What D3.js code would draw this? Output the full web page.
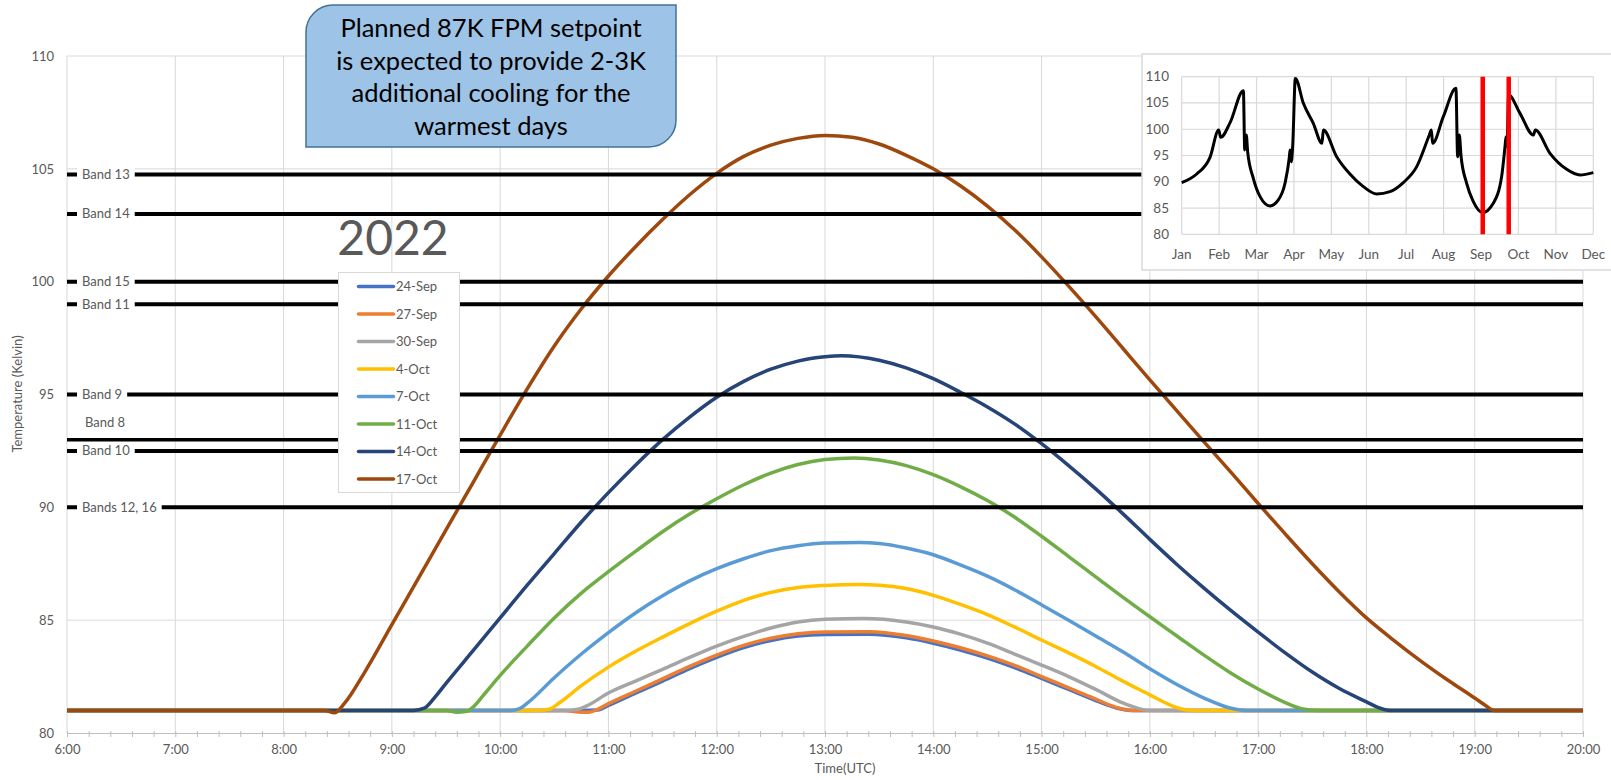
<!DOCTYPE html>
<html>
<head>
<meta charset="utf-8">
<script src="https://cdn.jsdelivr.net/npm/d3@7"></script>
<style>
  body { margin: 0; background: #fff; }
  svg { display: block; font-family: Lato, "Liberation Sans", sans-serif; }
</style>
</head>
<body>
<div id="vis"></div>
<script>
// FPM temperature per day, [hour UTC, kelvin]
var sep24 = [[6, 81], [10.75, 81], [10.9, 81.02], [11.0, 81.22], [11.25, 81.77], [11.5, 82.3], [11.75, 82.85], [12.0, 83.35], [12.25, 83.78], [12.5, 84.1], [12.75, 84.3], [13.0, 84.37], [13.41, 84.38], [13.75, 84.22], [14.0, 83.98], [14.25, 83.68], [14.5, 83.32], [14.75, 82.9], [15.0, 82.42], [15.25, 81.93], [15.5, 81.44], [15.7, 81.1], [15.85, 81], [20, 81]];
var sep27 = [[6, 81], [10.6, 81], [10.72, 80.93], [10.8, 80.92], [10.9, 81.05], [11.0, 81.3], [11.25, 81.85], [11.5, 82.4], [11.75, 82.95], [12.0, 83.45], [12.25, 83.88], [12.5, 84.2], [12.75, 84.4], [13.0, 84.48], [13.41, 84.49], [13.75, 84.32], [14.0, 84.08], [14.25, 83.78], [14.5, 83.42], [14.75, 83.0], [15.0, 82.5], [15.25, 82.0], [15.5, 81.5], [15.7, 81.12], [15.85, 81], [20, 81]];
var sep30 = [[6, 81], [10.62, 81], [10.72, 81.05], [10.8, 81.2], [11.0, 81.77], [11.25, 82.3], [11.5, 82.82], [11.75, 83.35], [12.0, 83.85], [12.25, 84.28], [12.5, 84.65], [12.75, 84.92], [13.0, 85.04], [13.36, 85.07], [13.75, 84.92], [14.0, 84.7], [14.25, 84.38], [14.5, 83.98], [14.75, 83.5], [15.0, 83.01], [15.25, 82.5], [15.5, 81.93], [15.75, 81.33], [15.9, 81.08], [16.0, 81], [20, 81]];
var oct4 = [[6, 81], [10.35, 81], [10.45, 81.05], [10.55, 81.35], [10.75, 82.1], [11.0, 82.92], [11.25, 83.62], [11.5, 84.25], [11.75, 84.85], [12.0, 85.4], [12.25, 85.88], [12.5, 86.23], [12.75, 86.45], [13.0, 86.54], [13.32, 86.58], [13.5, 86.55], [13.75, 86.4], [14.0, 86.1], [14.25, 85.7], [14.5, 85.25], [14.75, 84.7], [15.0, 84.12], [15.25, 83.55], [15.5, 82.95], [15.75, 82.3], [16.0, 81.69], [16.15, 81.32], [16.3, 81.05], [16.4, 81], [20, 81]];
var oct7 = [[6, 81], [10.1, 81], [10.18, 81.08], [10.25, 81.32], [10.5, 82.45], [10.75, 83.5], [11.0, 84.45], [11.25, 85.32], [11.5, 86.08], [11.75, 86.74], [12.0, 87.28], [12.25, 87.72], [12.5, 88.08], [12.75, 88.3], [13.0, 88.42], [13.32, 88.44], [13.5, 88.4], [13.75, 88.2], [14.0, 87.9], [14.25, 87.45], [14.5, 86.95], [14.75, 86.35], [15.0, 85.68], [15.25, 85.0], [15.5, 84.3], [15.75, 83.6], [16.0, 82.85], [16.25, 82.15], [16.5, 81.55], [16.75, 81.1], [16.9, 81], [20, 81]];
var oct11 = [[6, 81], [9.5, 81], [9.6, 80.92], [9.68, 80.95], [9.75, 81.15], [9.85, 81.7], [10.0, 82.55], [10.25, 83.85], [10.5, 85.1], [10.75, 86.2], [11.0, 87.15], [11.25, 88.05], [11.5, 88.92], [11.75, 89.7], [12.0, 90.38], [12.25, 91.0], [12.5, 91.52], [12.75, 91.9], [13.0, 92.12], [13.27, 92.19], [13.5, 92.1], [13.75, 91.85], [14.0, 91.45], [14.25, 90.92], [14.5, 90.3], [14.75, 89.57], [15.0, 88.72], [15.25, 87.82], [15.5, 86.92], [15.75, 86.02], [16.0, 85.15], [16.25, 84.3], [16.5, 83.45], [16.75, 82.65], [17.0, 81.95], [17.25, 81.35], [17.4, 81.08], [17.55, 81], [20, 81]];
var oct14 = [[6, 81], [9.2, 81], [9.3, 81.1], [9.4, 81.6], [9.5, 82.2], [9.75, 83.65], [10.0, 85.1], [10.25, 86.55], [10.5, 87.95], [10.75, 89.35], [11.0, 90.65], [11.25, 91.87], [11.5, 93.0], [11.75, 94.0], [12.0, 94.88], [12.25, 95.58], [12.5, 96.12], [12.75, 96.48], [13.0, 96.67], [13.15, 96.72], [13.5, 96.52], [13.75, 96.18], [14.0, 95.7], [14.25, 95.1], [14.5, 94.45], [14.75, 93.7], [15.0, 92.82], [15.25, 91.85], [15.5, 90.82], [15.75, 89.72], [16.0, 88.58], [16.25, 87.47], [16.5, 86.42], [16.75, 85.42], [17.0, 84.47], [17.25, 83.55], [17.5, 82.7], [17.75, 81.97], [18.0, 81.38], [18.1, 81.15], [18.22, 81], [20, 81]];
var oct17 = [[6, 81], [8.38, 81], [8.47, 80.9], [8.56, 81.3], [8.75, 82.7], [9.0, 84.8], [9.25, 86.9], [9.5, 89.0], [9.75, 91.1], [10.0, 93.2], [10.25, 95.25], [10.5, 97.15], [10.75, 98.8], [11.0, 100.25], [11.25, 101.55], [11.5, 102.75], [11.75, 103.85], [12.0, 104.8], [12.25, 105.55], [12.5, 106.05], [12.75, 106.35], [13.0, 106.48], [13.25, 106.4], [13.5, 106.1], [13.75, 105.6], [14.0, 105.0], [14.25, 104.25], [14.5, 103.35], [14.75, 102.3], [15.0, 101.1], [15.25, 99.8], [15.5, 98.45], [15.75, 97.05], [16.0, 95.65], [16.25, 94.27], [16.5, 92.9], [16.75, 91.55], [17.0, 90.17], [17.25, 88.82], [17.5, 87.5], [17.75, 86.25], [18.0, 85.1], [18.25, 84.12], [18.5, 83.2], [18.75, 82.35], [19.0, 81.55], [19.1, 81.22], [19.18, 81], [20, 81]];

var seriesNames = ["24-Sep", "27-Sep", "30-Sep", "4-Oct", "7-Oct", "11-Oct", "14-Oct", "17-Oct"];
var seriesData = [sep24, sep27, sep30, oct4, oct7, oct11, oct14, oct17];
var seriesColors = ["#4472c4", "#ed7d31", "#a5a5a5", "#ffc000", "#5b9bd5", "#70ad47", "#264478", "#9e480e"];

// detector band limits
var bandNames = ["Band 13", "Band 14", "Band 15", "Band 11", "Band 9", "Band 10", "Bands 12, 16"];
var bandTemps = [104.75, 103, 100, 99, 95, 92.5, 90];
var band8Name = "Band 8";
var band8Temp = 93;

var yTicks = [80, 85, 90, 95, 100, 105, 110];
var hourTicks = [6, 7, 8, 9, 10, 11, 12, 13, 14, 15, 16, 17, 18, 19, 20];

// inset: yearly temperature, [day of year] / kelvin
var insetMonths = ["Jan", "Feb", "Mar", "Apr", "May", "Jun", "Jul", "Aug", "Sep", "Oct", "Nov", "Dec"];
var insetDays = [0, 13.3, 25.1, 32.8, 34.6, 42.9, 54.7, 55.9, 57.3, 58.5, 63.5, 69.5, 78.3, 85.7, 91.6, 95.5, 96.1, 97.2, 98.4, 100.8, 107.9, 116.7, 124.4, 125.6, 137.4, 149.2, 161.1, 172.9, 184.7, 196.5, 208.4, 219.6, 221.4, 222.5, 232.0, 243.2, 244.7, 246.2, 247.7, 252.7, 258.6, 266.9, 276.3, 283.7, 286.7, 287.6, 288.5, 289.9, 300.0, 311.8, 313.6, 326.6, 341.4, 353.2, 365];
var insetTemps = [89.84, 91.48, 94.65, 99.85, 98.46, 101.25, 107.34, 96.05, 98.9, 95.7, 90.66, 87.17, 85.4, 86.54, 89.71, 94.78, 96.05, 93.83, 96.68, 109.68, 104.93, 101.12, 97.32, 99.85, 94.78, 91.48, 89.07, 87.68, 88.12, 89.84, 92.88, 98.9, 99.85, 97.32, 102.39, 107.78, 94.78, 98.9, 94.91, 89.71, 86.22, 84.13, 85.9, 90.98, 96.68, 98.59, 96.68, 106.51, 103.02, 98.9, 99.85, 95.42, 92.37, 91.29, 91.74];
var insetMarkDays = [267, 290];
var insetTicks = [80, 85, 90, 95, 100, 105, 110];

var calloutLines = ["Planned 87K FPM setpoint", "is expected to provide 2-3K", "additional cooling for the", "warmest days"];

var opts = {
  width: 1611,
  height: 780,
  left: 67,
  right: 1583,
  top: 56,
  bottom: 733,
  grid: "#d9d9d9",
  text: "#595959"
};

var svg = d3.select("#vis")
  .append("svg")
  .attr("width", opts.width)
  .attr("height", opts.height);

var x = d3.scaleLinear().domain([6, 20]).range([opts.left, opts.right]);
var y = d3.scaleLinear().domain([80, 110]).range([opts.bottom, opts.top]);

// gridlines
svg.append("g")
  .selectAll("line")
  .data(yTicks.slice(1))
  .join("line")
  .attr("x1", opts.left)
  .attr("x2", opts.right)
  .attr("y1", function(d) { return y(d); })
  .attr("y2", function(d) { return y(d); })
  .attr("stroke", opts.grid);

svg.append("g")
  .selectAll("line")
  .data(hourTicks)
  .join("line")
  .attr("x1", function(d) { return x(d); })
  .attr("x2", function(d) { return x(d); })
  .attr("y1", opts.top)
  .attr("y2", opts.bottom)
  .attr("stroke", opts.grid);

// x axis with 12 minute ticks
var minorTicks = d3.range(0, 71).map(function(i) { return 6 + i * 0.2; });
var xMinor = svg.append("g")
  .attr("transform", "translate(0," + opts.bottom + ")")
  .call(d3.axisBottom(x).tickValues(minorTicks).tickSize(4).tickFormat(""));
xMinor.selectAll("line").attr("stroke", "#bfbfbf").attr("y1", -2);
xMinor.select(".domain").attr("stroke", "#bfbfbf");

var xAxis = svg.append("g")
  .attr("transform", "translate(0," + opts.bottom + ")")
  .call(d3.axisBottom(x).tickValues(hourTicks).tickSize(0).tickPadding(12)
    .tickFormat(function(d) { return d + ":00"; }));
xAxis.select(".domain").remove();
xAxis.selectAll("text")
  .attr("fill", opts.text)
  .style("font-family", "Lato, 'Liberation Sans', sans-serif")
  .style("font-size", "13px");

var yAxis = svg.append("g")
  .attr("transform", "translate(" + opts.left + ",0)")
  .call(d3.axisLeft(y).tickValues(yTicks).tickSize(0).tickPadding(13));
yAxis.select(".domain").remove();
yAxis.selectAll("text")
  .attr("fill", opts.text)
  .style("font-family", "Lato, 'Liberation Sans', sans-serif")
  .style("font-size", "13px");

svg.append("text")
  .attr("x", 845)
  .attr("y", 773)
  .attr("text-anchor", "middle")
  .attr("fill", opts.text)
  .style("font-size", "13px")
  .text("Time(UTC)");

svg.append("text")
  .attr("transform", "translate(22,394) rotate(-90)")
  .attr("text-anchor", "middle")
  .attr("fill", opts.text)
  .style("font-size", "13px")
  .text("Temperature (Kelvin)");

// temperature curves
var line = d3.line()
  .x(function(d) { return x(d[0]); })
  .y(function(d) { return y(d[1]); })
  .curve(d3.curveMonotoneX);

svg.append("g")
  .selectAll("path")
  .data(seriesData)
  .join("path")
  .attr("d", line)
  .attr("fill", "none")
  .attr("stroke", function(d, i) { return seriesColors[i]; })
  .attr("stroke-width", 3.5)
  .attr("stroke-linejoin", "round");

// band lines with labels cut into them
var bands = svg.append("g");
bandTemps.forEach(function(t, i) {
  bands.append("line")
    .attr("x1", opts.left)
    .attr("x2", opts.right)
    .attr("y1", y(t))
    .attr("y2", y(t))
    .attr("stroke", "#000")
    .attr("stroke-width", 4);
  var bg = bands.append("rect").attr("fill", "#fff");
  var label = bands.append("text")
    .attr("x", 82)
    .attr("y", y(t) + 4.5)
    .attr("fill", opts.text)
    .style("font-size", "13px")
    .text(bandNames[i]);
  var w = label.node().getComputedTextLength();
  bg.attr("x", 77).attr("y", y(t) - 8).attr("width", w + 10).attr("height", 16);
});

bands.append("line")
  .attr("x1", opts.left)
  .attr("x2", opts.right)
  .attr("y1", y(band8Temp))
  .attr("y2", y(band8Temp))
  .attr("stroke", "#000")
  .attr("stroke-width", 3.5);
bands.append("text")
  .attr("x", 85)
  .attr("y", y(band8Temp) - 13)
  .attr("fill", opts.text)
  .style("font-size", "13px")
  .text(band8Name);

// legend
var legend = svg.append("g");
legend.append("rect")
  .attr("x", 338.5)
  .attr("y", 272.5)
  .attr("width", 121)
  .attr("height", 220)
  .attr("fill", "#fff")
  .attr("stroke", opts.grid);

var entries = legend.selectAll("g.entry")
  .data(seriesNames)
  .join("g")
  .attr("class", "entry")
  .attr("transform", function(d, i) { return "translate(0," + (286.6 + i * 27.5) + ")"; });
entries.append("line")
  .attr("x1", 358.5)
  .attr("x2", 393.5)
  .attr("stroke", function(d, i) { return seriesColors[i]; })
  .attr("stroke-width", 3.5)
  .attr("stroke-linecap", "round");
entries.append("text")
  .attr("x", 396)
  .attr("y", 4.5)
  .attr("fill", opts.text)
  .style("font-size", "13px")
  .text(function(d) { return d; });

svg.append("text")
  .attr("x", 393)
  .attr("y", 255)
  .attr("text-anchor", "middle")
  .attr("fill", opts.text)
  .style("font-size", "48px")
  .text("2022");

// inset: whole year
var inset = { left: 1142, top: 54, pl: 1181.7, pr: 1593.3, pt: 76.7, pb: 234.3 };
var ix = d3.scaleLinear().domain([0, 365]).range([inset.pl, inset.pr]);
var im = d3.scalePoint().domain(insetMonths).range([inset.pl, inset.pr]);
var iy = d3.scaleLinear().domain([80, 110]).range([inset.pb, inset.pt]);

var ins = svg.append("g");
ins.append("rect")
  .attr("x", inset.left)
  .attr("y", inset.top)
  .attr("width", 480)
  .attr("height", 216)
  .attr("fill", "#fff")
  .attr("stroke", opts.grid)
  .attr("stroke-width", 1.5);

ins.append("g")
  .selectAll("line")
  .data(insetTicks)
  .join("line")
  .attr("x1", inset.pl)
  .attr("x2", inset.pr)
  .attr("y1", function(d) { return iy(d); })
  .attr("y2", function(d) { return iy(d); })
  .attr("stroke", opts.grid)
  .attr("stroke-width", 1.2);

ins.append("g")
  .selectAll("line")
  .data(insetMonths)
  .join("line")
  .attr("x1", function(d) { return im(d); })
  .attr("x2", function(d) { return im(d); })
  .attr("y1", inset.pt)
  .attr("y2", inset.pb)
  .attr("stroke", opts.grid)
  .attr("stroke-width", 1.2);

ins.append("g")
  .selectAll("text")
  .data(insetTicks)
  .join("text")
  .attr("x", 1169)
  .attr("y", function(d) { return iy(d) + 4.5; })
  .attr("text-anchor", "end")
  .attr("fill", opts.text)
  .style("font-size", "13.5px")
  .text(function(d) { return d; });

ins.append("g")
  .selectAll("text")
  .data(insetMonths)
  .join("text")
  .attr("x", function(d) { return im(d); })
  .attr("y", 258.5)
  .attr("text-anchor", "middle")
  .attr("fill", opts.text)
  .style("font-size", "13.5px")
  .text(function(d) { return d; });

var yearLine = d3.line()
  .x(function(d, i) { return ix(insetDays[i]); })
  .y(function(d) { return iy(d); })
  .curve(d3.curveMonotoneX);

ins.append("path")
  .attr("d", yearLine(insetTemps))
  .attr("fill", "none")
  .attr("stroke", "#000")
  .attr("stroke-width", 3)
  .attr("stroke-linejoin", "round");

ins.append("g")
  .selectAll("line")
  .data(insetMarkDays)
  .join("line")
  .attr("x1", function(d) { return ix(d); })
  .attr("x2", function(d) { return ix(d); })
  .attr("y1", inset.pt)
  .attr("y2", inset.pb)
  .attr("stroke", "#ff0000")
  .attr("stroke-width", 4.5);

// callout box, rounded on the diagonal corners
var cb = { x0: 306, y0: 5, x1: 676, y1: 147, r: 27 };
var callout = svg.append("g");
callout.append("path")
  .attr("d", "M" + (cb.x0 + cb.r) + "," + cb.y0 +
    "H" + cb.x1 + "V" + (cb.y1 - cb.r) +
    "A" + cb.r + "," + cb.r + " 0 0 1 " + (cb.x1 - cb.r) + "," + cb.y1 +
    "H" + cb.x0 + "V" + (cb.y0 + cb.r) +
    "A" + cb.r + "," + cb.r + " 0 0 1 " + (cb.x0 + cb.r) + "," + cb.y0 + "Z")
  .attr("fill", "#9dc3e6")
  .attr("stroke", "#41719c")
  .attr("stroke-width", 1.5);

callout.selectAll("text")
  .data(calloutLines)
  .join("text")
  .attr("x", (cb.x0 + cb.x1) / 2)
  .attr("y", function(d, i) { return 37 + i * 32.5; })
  .attr("text-anchor", "middle")
  .attr("fill", "#000")
  .style("font-size", "25.5px")
  .text(function(d) { return d; });
</script>
</body>
</html>
